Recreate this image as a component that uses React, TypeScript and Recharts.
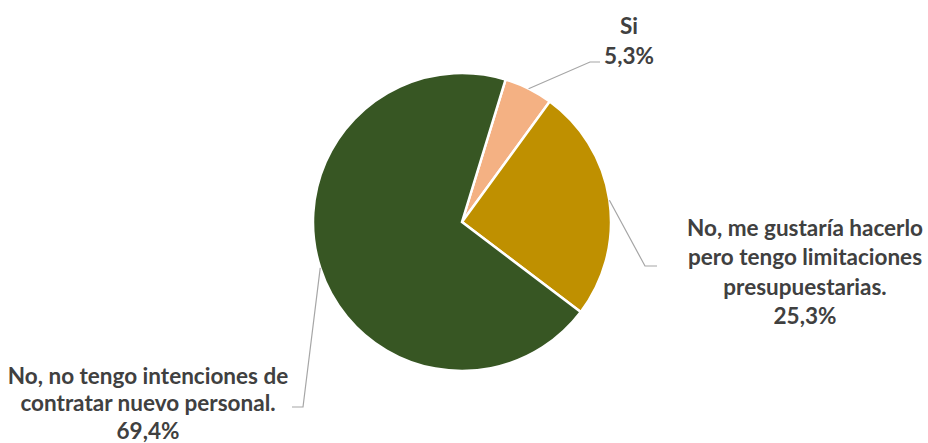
import { Cell, Pie, PieChart } from "recharts";

document.body.style.margin = "0";

const categories = [
  "Si",
  "No, me gustaría hacerlo pero tengo limitaciones presupuestarias.",
  "No, no tengo intenciones de contratar nuevo personal.",
];
const shares = [5.3, 25.3, 69.4];
const labelLines = [
  ["Si"],
  ["No, me gustaría hacerlo", "pero tengo limitaciones", "presupuestarias."],
  ["No, no tengo intenciones de", "contratar nuevo personal."],
];
const colors = ["#F4B183", "#BF9000", "#375623"];

// leader line elbow / end and text block, relative to the pie centre
const layout = [
  { elbow: [128, -160], end: [138, -160], tx: 167, ty: -197, lh: 30 },
  { elbow: [183, 44], end: [195, 44], tx: 343, ty: 5, lh: 29.5 },
  { elbow: [-159, 185], end: [-170, 185], tx: -314, ty: 153, lh: 27.5 },
];

const data = categories.map((name, i) => ({ name, value: shares[i] }));
const fmt = (v: number) => v.toFixed(1).replace(".", ",") + "%";
const RAD = Math.PI / 180;

function renderLabel(props: any) {
  const { cx, cy, midAngle, outerRadius, index } = props;
  const l = layout[index];
  const sx = cx + outerRadius * Math.cos(-midAngle * RAD);
  const sy = cy + outerRadius * Math.sin(-midAngle * RAD);
  const lines = [...labelLines[index], fmt(shares[index])];
  return (
    <g key={`lbl-${index}`}>
      <polyline
        points={`${sx},${sy} ${cx + l.elbow[0]},${cy + l.elbow[1]} ${cx + l.end[0]},${cy + l.end[1]}`}
        fill="none"
        stroke="#A6A6A6"
        strokeWidth={1.2}
      />
      {lines.map((t, k) => (
        <text
          key={k}
          x={cx + l.tx}
          y={cy + l.ty + k * l.lh}
          textAnchor="middle"
          dominantBaseline="central"
          fill="#404040"
          fontSize={22.5}
          fontWeight={700}
          fontFamily="Lato, 'Open Sans', sans-serif"
        >
          {t}
        </text>
      ))}
    </g>
  );
}

export default function App() {
  return (
    <div style={{ width: 928, height: 443, background: "#fff" }}>
      <PieChart width={928} height={443} margin={{ top: 0, right: 0, bottom: 0, left: 0 }}>
        <Pie
          data={data}
          dataKey="value"
          nameKey="name"
          cx={462}
          cy={222}
          outerRadius={149}
          startAngle={73}
          endAngle={-287}
          stroke="#fff"
          strokeWidth={2.5}
          label={renderLabel}
          labelLine={false}
          isAnimationActive={false}
        >
          {data.map((d, i) => (
            <Cell key={d.name} fill={colors[i]} />
          ))}
        </Pie>
      </PieChart>
    </div>
  );
}
